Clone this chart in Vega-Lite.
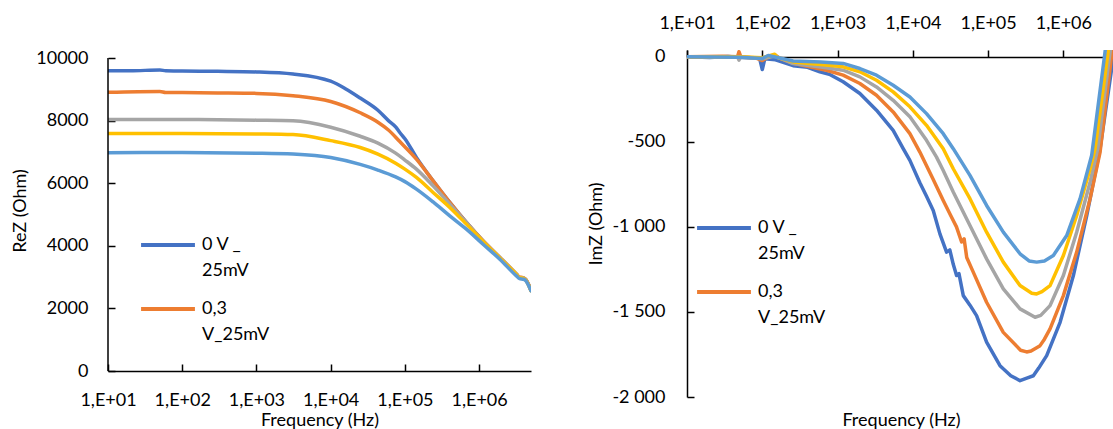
{
  "$schema": "https://vega.github.io/schema/vega-lite/v6.json",
  "padding": {"left": 11, "top": 14, "right": 0, "bottom": 0},
  "bounds": "flush",
  "spacing": 156,
  "config": {
    "font": "Lato",
    "view": {"stroke": null},
    "axis": {"labelFont": "Lato", "labelFontSize": 18, "labelColor": "#000", "titleFont": "Lato", "titleFontSize": 18, "titleFontWeight": "normal", "titleColor": "#000", "domainColor": "#000", "domainWidth": 1.5, "tickColor": "#000", "tickWidth": 1.5, "grid": false, "labelFlush": false, "labelOverlap": false},
    "legend": {"labelFont": "Lato", "labelFontSize": 18, "labelColor": "#000"},
    "style": {"guide-label": {"lineHeight": 26}},
    "title": {"font": "Lato", "fontSize": 18, "fontWeight": "normal", "color": "#000"}
  },
  "datasets": {
    "rez": [
      {"s": "0 V _ 25mV", "f": 10, "z": 9594}, {"s": "0 V _ 25mV", "f": 20, "z": 9590}, {"s": "0 V _ 25mV", "f": 50, "z": 9620}, {"s": "0 V _ 25mV", "f": 60, "z": 9592}, {"s": "0 V _ 25mV", "f": 100, "z": 9585}, {"s": "0 V _ 25mV", "f": 300, "z": 9575}, {"s": "0 V _ 25mV", "f": 1000, "z": 9555}, {"s": "0 V _ 25mV", "f": 3110, "z": 9489}, {"s": "0 V _ 25mV", "f": 10000, "z": 9260}, {"s": "0 V _ 25mV", "f": 16000, "z": 9010}, {"s": "0 V _ 25mV", "f": 25000, "z": 8720}, {"s": "0 V _ 25mV", "f": 43300, "z": 8330}, {"s": "0 V _ 25mV", "f": 60000, "z": 8000}, {"s": "0 V _ 25mV", "f": 75000, "z": 7800}, {"s": "0 V _ 25mV", "f": 85300, "z": 7620}, {"s": "0 V _ 25mV", "f": 100000, "z": 7420}, {"s": "0 V _ 25mV", "f": 142900, "z": 6825}, {"s": "0 V _ 25mV", "f": 239900, "z": 6076}, {"s": "0 V _ 25mV", "f": 402400, "z": 5385}, {"s": "0 V _ 25mV", "f": 674000, "z": 4746}, {"s": "0 V _ 25mV", "f": 1130000, "z": 4157}, {"s": "0 V _ 25mV", "f": 1900000, "z": 3626}, {"s": "0 V _ 25mV", "f": 3180000, "z": 3092}, {"s": "0 V _ 25mV", "f": 3500000, "z": 2990}, {"s": "0 V _ 25mV", "f": 3920000, "z": 2975}, {"s": "0 V _ 25mV", "f": 4200000, "z": 2930}, {"s": "0 V _ 25mV", "f": 5000000, "z": 2580},
      {"s": "0,3 V_25mV", "f": 10, "z": 8903}, {"s": "0,3 V_25mV", "f": 50, "z": 8930}, {"s": "0,3 V_25mV", "f": 60, "z": 8900}, {"s": "0,3 V_25mV", "f": 100, "z": 8895}, {"s": "0,3 V_25mV", "f": 300, "z": 8885}, {"s": "0,3 V_25mV", "f": 1000, "z": 8870}, {"s": "0,3 V_25mV", "f": 3110, "z": 8795}, {"s": "0,3 V_25mV", "f": 10000, "z": 8610}, {"s": "0,3 V_25mV", "f": 25000, "z": 8250}, {"s": "0,3 V_25mV", "f": 43300, "z": 7950}, {"s": "0,3 V_25mV", "f": 60000, "z": 7700}, {"s": "0,3 V_25mV", "f": 85300, "z": 7330}, {"s": "0,3 V_25mV", "f": 142900, "z": 6770}, {"s": "0,3 V_25mV", "f": 239900, "z": 6076}, {"s": "0,3 V_25mV", "f": 402400, "z": 5385}, {"s": "0,3 V_25mV", "f": 674000, "z": 4746}, {"s": "0,3 V_25mV", "f": 1130000, "z": 4160}, {"s": "0,3 V_25mV", "f": 1900000, "z": 3630}, {"s": "0,3 V_25mV", "f": 3180000, "z": 3100}, {"s": "0,3 V_25mV", "f": 3500000, "z": 3000}, {"s": "0,3 V_25mV", "f": 3920000, "z": 2985}, {"s": "0,3 V_25mV", "f": 4200000, "z": 2940}, {"s": "0,3 V_25mV", "f": 5000000, "z": 2590},
      {"s": "Série 3", "f": 10, "z": 8039}, {"s": "Série 3", "f": 100, "z": 8035}, {"s": "Série 3", "f": 300, "z": 8030}, {"s": "Série 3", "f": 1000, "z": 8015}, {"s": "Série 3", "f": 3110, "z": 7995}, {"s": "Série 3", "f": 10000, "z": 7790}, {"s": "Série 3", "f": 25000, "z": 7500}, {"s": "Série 3", "f": 43300, "z": 7280}, {"s": "Série 3", "f": 75000, "z": 6960}, {"s": "Série 3", "f": 100000, "z": 6740}, {"s": "Série 3", "f": 142900, "z": 6450}, {"s": "Série 3", "f": 239900, "z": 5916}, {"s": "Série 3", "f": 402400, "z": 5331}, {"s": "Série 3", "f": 674000, "z": 4746}, {"s": "Série 3", "f": 1130000, "z": 4150}, {"s": "Série 3", "f": 1900000, "z": 3620}, {"s": "Série 3", "f": 3180000, "z": 3090}, {"s": "Série 3", "f": 3500000, "z": 2985}, {"s": "Série 3", "f": 3920000, "z": 2970}, {"s": "Série 3", "f": 4200000, "z": 2925}, {"s": "Série 3", "f": 5000000, "z": 2570},
      {"s": "Série 4", "f": 10, "z": 7591}, {"s": "Série 4", "f": 100, "z": 7590}, {"s": "Série 4", "f": 1000, "z": 7575}, {"s": "Série 4", "f": 3110, "z": 7555}, {"s": "Série 4", "f": 10000, "z": 7360}, {"s": "Série 4", "f": 25000, "z": 7140}, {"s": "Série 4", "f": 43300, "z": 6930}, {"s": "Série 4", "f": 75000, "z": 6640}, {"s": "Série 4", "f": 100000, "z": 6450}, {"s": "Série 4", "f": 142900, "z": 6185}, {"s": "Série 4", "f": 239900, "z": 5705}, {"s": "Série 4", "f": 402400, "z": 5226}, {"s": "Série 4", "f": 674000, "z": 4692}, {"s": "Série 4", "f": 1130000, "z": 4140}, {"s": "Série 4", "f": 1900000, "z": 3610}, {"s": "Série 4", "f": 3180000, "z": 3085}, {"s": "Série 4", "f": 3500000, "z": 2980}, {"s": "Série 4", "f": 3920000, "z": 2965}, {"s": "Série 4", "f": 4200000, "z": 2920}, {"s": "Série 4", "f": 5000000, "z": 2565},
      {"s": "Série 5", "f": 10, "z": 6975}, {"s": "Série 5", "f": 100, "z": 6980}, {"s": "Série 5", "f": 1000, "z": 6960}, {"s": "Série 5", "f": 3110, "z": 6930}, {"s": "Série 5", "f": 10000, "z": 6820}, {"s": "Série 5", "f": 25000, "z": 6600}, {"s": "Série 5", "f": 43300, "z": 6420}, {"s": "Série 5", "f": 75000, "z": 6200}, {"s": "Série 5", "f": 100000, "z": 6050}, {"s": "Série 5", "f": 142900, "z": 5810}, {"s": "Série 5", "f": 239900, "z": 5400}, {"s": "Série 5", "f": 402400, "z": 4957}, {"s": "Série 5", "f": 674000, "z": 4532}, {"s": "Série 5", "f": 1130000, "z": 4052}, {"s": "Série 5", "f": 1900000, "z": 3572}, {"s": "Série 5", "f": 3180000, "z": 3038}, {"s": "Série 5", "f": 3500000, "z": 2950}, {"s": "Série 5", "f": 3920000, "z": 2933}, {"s": "Série 5", "f": 4200000, "z": 2900}, {"s": "Série 5", "f": 5000000, "z": 2558}
    ],
    "imz": [
      {"s": "0 V _ 25mV", "f": 10, "z": 0}, {"s": "0 V _ 25mV", "f": 20, "z": -4}, {"s": "0 V _ 25mV", "f": 35, "z": 2}, {"s": "0 V _ 25mV", "f": 49, "z": -3}, {"s": "0 V _ 25mV", "f": 70, "z": -5}, {"s": "0 V _ 25mV", "f": 92, "z": -8}, {"s": "0 V _ 25mV", "f": 100, "z": -75}, {"s": "0 V _ 25mV", "f": 108, "z": -12}, {"s": "0 V _ 25mV", "f": 150, "z": -18}, {"s": "0 V _ 25mV", "f": 257, "z": -52}, {"s": "0 V _ 25mV", "f": 400, "z": -62}, {"s": "0 V _ 25mV", "f": 582, "z": -88}, {"s": "0 V _ 25mV", "f": 800, "z": -105}, {"s": "0 V _ 25mV", "f": 1186, "z": -147}, {"s": "0 V _ 25mV", "f": 1980, "z": -216}, {"s": "0 V _ 25mV", "f": 3290, "z": -314}, {"s": "0 V _ 25mV", "f": 5480, "z": -432}, {"s": "0 V _ 25mV", "f": 7450, "z": -540}, {"s": "0 V _ 25mV", "f": 9140, "z": -609}, {"s": "0 V _ 25mV", "f": 12400, "z": -740}, {"s": "0 V _ 25mV", "f": 15200, "z": -820}, {"s": "0 V _ 25mV", "f": 18670, "z": -903}, {"s": "0 V _ 25mV", "f": 22900, "z": -1041}, {"s": "0 V _ 25mV", "f": 28060, "z": -1148}, {"s": "0 V _ 25mV", "f": 31000, "z": -1135}, {"s": "0 V _ 25mV", "f": 34440, "z": -1220}, {"s": "0 V _ 25mV", "f": 38120, "z": -1286}, {"s": "0 V _ 25mV", "f": 41000, "z": -1275}, {"s": "0 V _ 25mV", "f": 46800, "z": -1404}, {"s": "0 V _ 25mV", "f": 57400, "z": -1460}, {"s": "0 V _ 25mV", "f": 70300, "z": -1522}, {"s": "0 V _ 25mV", "f": 95500, "z": -1678}, {"s": "0 V _ 25mV", "f": 143900, "z": -1816}, {"s": "0 V _ 25mV", "f": 200000, "z": -1875}, {"s": "0 V _ 25mV", "f": 265500, "z": -1904}, {"s": "0 V _ 25mV", "f": 320000, "z": -1890}, {"s": "0 V _ 25mV", "f": 399000, "z": -1875}, {"s": "0 V _ 25mV", "f": 470000, "z": -1830}, {"s": "0 V _ 25mV", "f": 600000, "z": -1757}, {"s": "0 V _ 25mV", "f": 904000, "z": -1561}, {"s": "0 V _ 25mV", "f": 1358000, "z": -1286}, {"s": "0 V _ 25mV", "f": 2043000, "z": -933}, {"s": "0 V _ 25mV", "f": 3073000, "z": -540}, {"s": "0 V _ 25mV", "f": 4620000, "z": 0}, {"s": "0 V _ 25mV", "f": 5000000, "z": 160},
      {"s": "0,3 V_25mV", "f": 10, "z": 0}, {"s": "0,3 V_25mV", "f": 30, "z": 3}, {"s": "0,3 V_25mV", "f": 47, "z": 0}, {"s": "0,3 V_25mV", "f": 49, "z": 30}, {"s": "0,3 V_25mV", "f": 52, "z": -2}, {"s": "0,3 V_25mV", "f": 80, "z": -5}, {"s": "0,3 V_25mV", "f": 100, "z": -22}, {"s": "0,3 V_25mV", "f": 115, "z": -5}, {"s": "0,3 V_25mV", "f": 146, "z": 12}, {"s": "0,3 V_25mV", "f": 170, "z": -8}, {"s": "0,3 V_25mV", "f": 257, "z": -38}, {"s": "0,3 V_25mV", "f": 712, "z": -79}, {"s": "0,3 V_25mV", "f": 1186, "z": -108}, {"s": "0,3 V_25mV", "f": 1980, "z": -157}, {"s": "0,3 V_25mV", "f": 3290, "z": -226}, {"s": "0,3 V_25mV", "f": 5480, "z": -324}, {"s": "0,3 V_25mV", "f": 9140, "z": -452}, {"s": "0,3 V_25mV", "f": 12400, "z": -560}, {"s": "0,3 V_25mV", "f": 18400, "z": -715}, {"s": "0,3 V_25mV", "f": 25350, "z": -845}, {"s": "0,3 V_25mV", "f": 31600, "z": -930}, {"s": "0,3 V_25mV", "f": 38000, "z": -1000}, {"s": "0,3 V_25mV", "f": 44460, "z": -1089}, {"s": "0,3 V_25mV", "f": 48000, "z": -1070}, {"s": "0,3 V_25mV", "f": 52000, "z": -1180}, {"s": "0,3 V_25mV", "f": 63500, "z": -1266}, {"s": "0,3 V_25mV", "f": 95500, "z": -1443}, {"s": "0,3 V_25mV", "f": 159200, "z": -1620}, {"s": "0,3 V_25mV", "f": 270000, "z": -1725}, {"s": "0,3 V_25mV", "f": 325000, "z": -1735}, {"s": "0,3 V_25mV", "f": 372000, "z": -1730}, {"s": "0,3 V_25mV", "f": 490000, "z": -1698}, {"s": "0,3 V_25mV", "f": 560000, "z": -1660}, {"s": "0,3 V_25mV", "f": 665000, "z": -1600}, {"s": "0,3 V_25mV", "f": 1000000, "z": -1404}, {"s": "0,3 V_25mV", "f": 1502000, "z": -1148}, {"s": "0,3 V_25mV", "f": 2265000, "z": -834}, {"s": "0,3 V_25mV", "f": 3073000, "z": -560}, {"s": "0,3 V_25mV", "f": 4350000, "z": 0}, {"s": "0,3 V_25mV", "f": 5000000, "z": 250},
      {"s": "Série 3", "f": 10, "z": 0}, {"s": "Série 3", "f": 30, "z": -2}, {"s": "Série 3", "f": 47, "z": 0}, {"s": "Série 3", "f": 49, "z": -20}, {"s": "Série 3", "f": 52, "z": 0}, {"s": "Série 3", "f": 100, "z": -12}, {"s": "Série 3", "f": 146, "z": 5}, {"s": "Série 3", "f": 257, "z": -40}, {"s": "Série 3", "f": 600, "z": -60}, {"s": "Série 3", "f": 1186, "z": -79}, {"s": "Série 3", "f": 1980, "z": -118}, {"s": "Série 3", "f": 3290, "z": -177}, {"s": "Série 3", "f": 5480, "z": -256}, {"s": "Série 3", "f": 9140, "z": -353}, {"s": "Série 3", "f": 15200, "z": -491}, {"s": "Série 3", "f": 20650, "z": -590}, {"s": "Série 3", "f": 25350, "z": -668}, {"s": "Série 3", "f": 34440, "z": -795}, {"s": "Série 3", "f": 57400, "z": -992}, {"s": "Série 3", "f": 95500, "z": -1188}, {"s": "Série 3", "f": 159200, "z": -1364}, {"s": "Série 3", "f": 265500, "z": -1482}, {"s": "Série 3", "f": 420500, "z": -1531}, {"s": "Série 3", "f": 500000, "z": -1520}, {"s": "Série 3", "f": 665000, "z": -1463}, {"s": "Série 3", "f": 1000000, "z": -1286}, {"s": "Série 3", "f": 1502000, "z": -1031}, {"s": "Série 3", "f": 2265000, "z": -736}, {"s": "Série 3", "f": 2860000, "z": -540}, {"s": "Série 3", "f": 4090000, "z": 0}, {"s": "Série 3", "f": 4700000, "z": 200},
      {"s": "Série 4", "f": 10, "z": 0}, {"s": "Série 4", "f": 49, "z": 0}, {"s": "Série 4", "f": 100, "z": -5}, {"s": "Série 4", "f": 146, "z": 15}, {"s": "Série 4", "f": 160, "z": -5}, {"s": "Série 4", "f": 257, "z": -30}, {"s": "Série 4", "f": 600, "z": -45}, {"s": "Série 4", "f": 1186, "z": -59}, {"s": "Série 4", "f": 1980, "z": -88}, {"s": "Série 4", "f": 3290, "z": -138}, {"s": "Série 4", "f": 5480, "z": -206}, {"s": "Série 4", "f": 9140, "z": -294}, {"s": "Série 4", "f": 15200, "z": -403}, {"s": "Série 4", "f": 25350, "z": -540}, {"s": "Série 4", "f": 34440, "z": -658}, {"s": "Série 4", "f": 57400, "z": -834}, {"s": "Série 4", "f": 95500, "z": -1031}, {"s": "Série 4", "f": 159200, "z": -1207}, {"s": "Série 4", "f": 265500, "z": -1345}, {"s": "Série 4", "f": 380000, "z": -1390}, {"s": "Série 4", "f": 441600, "z": -1394}, {"s": "Série 4", "f": 520000, "z": -1380}, {"s": "Série 4", "f": 665000, "z": -1345}, {"s": "Série 4", "f": 1000000, "z": -1168}, {"s": "Série 4", "f": 1502000, "z": -933}, {"s": "Série 4", "f": 2265000, "z": -658}, {"s": "Série 4", "f": 2635000, "z": -540}, {"s": "Série 4", "f": 3850000, "z": 0}, {"s": "Série 4", "f": 4400000, "z": 200},
      {"s": "Série 5", "f": 10, "z": 0}, {"s": "Série 5", "f": 49, "z": -3}, {"s": "Série 5", "f": 100, "z": -10}, {"s": "Série 5", "f": 120, "z": 8}, {"s": "Série 5", "f": 257, "z": -25}, {"s": "Série 5", "f": 600, "z": -30}, {"s": "Série 5", "f": 1186, "z": -39}, {"s": "Série 5", "f": 1980, "z": -69}, {"s": "Série 5", "f": 3290, "z": -108}, {"s": "Série 5", "f": 5480, "z": -167}, {"s": "Série 5", "f": 9140, "z": -236}, {"s": "Série 5", "f": 15200, "z": -334}, {"s": "Série 5", "f": 25350, "z": -452}, {"s": "Série 5", "f": 34440, "z": -540}, {"s": "Série 5", "f": 57400, "z": -697}, {"s": "Série 5", "f": 95500, "z": -874}, {"s": "Série 5", "f": 159200, "z": -1031}, {"s": "Série 5", "f": 265500, "z": -1158}, {"s": "Série 5", "f": 350000, "z": -1200}, {"s": "Série 5", "f": 441600, "z": -1207}, {"s": "Série 5", "f": 560000, "z": -1200}, {"s": "Série 5", "f": 736000, "z": -1168}, {"s": "Série 5", "f": 1107000, "z": -1051}, {"s": "Série 5", "f": 1667000, "z": -834}, {"s": "Série 5", "f": 2378000, "z": -579}, {"s": "Série 5", "f": 3510000, "z": 0}, {"s": "Série 5", "f": 4000000, "z": 200}
    ]
  },
  "resolve": {"legend": {"color": "independent"}},
  "hconcat": [
    {
      "width": 423,
      "height": 321,
      "layer": [
        {
          "data": {"name": "rez"},
          "mark": {"type": "line", "strokeWidth": 3.5, "strokeCap": "round", "strokeJoin": "round", "clip": true, "interpolate": "monotone"},
          "encoding": {
            "x": {"field": "f", "type": "quantitative", "scale": {"type": "log", "domain": [10, 5000000], "nice": false},
                  "axis": {"orient": "bottom", "values": [10, 100, 1000, 10000, 100000, 1000000], "labelExpr": "'1,E+0' + round(log(datum.value)/LN10)", "tickSize": -7, "labelPadding": 27, "title": "Frequency (Hz)", "titlePadding": 2}},
            "y": {"field": "z", "type": "quantitative", "scale": {"domain": [0, 10256], "nice": false, "zero": false},
                  "axis": {"values": [0, 2000, 4000, 6000, 8000, 10000], "format": "d", "tickSize": -7, "labelPadding": 27, "domain": false, "title": "ReZ (Ohm)", "titlePadding": 6}},
            "color": {"field": "s", "type": "nominal",
                      "scale": {"domain": ["0 V _ 25mV", "0,3 V_25mV", "Série 3", "Série 4", "Série 5"], "range": ["#4472C4", "#ED7D31", "#A5A5A5", "#FFC000", "#5B9BD5"]},
                      "legend": {"orient": "none", "legendX": 31, "legendY": 166, "values": ["0 V _ 25mV", "0,3 V_25mV"], "title": null, "symbolType": "stroke", "symbolSize": 2900, "symbolStrokeWidth": 4, "labelOffset": 5, "rowPadding": -5,
                                 "labelExpr": "datum.value === '0 V _ 25mV' ? ['0 V _', '25mV'] : ['0,3', 'V_25mV']"}}
          }
        },
        {
          "data": {"values": [{}]},
          "mark": {"type": "rule", "color": "#000", "strokeWidth": 1.5},
          "encoding": {"x": {"datum": 10, "type": "quantitative"}, "y": {"datum": 0, "type": "quantitative"}, "y2": {"datum": 10000}}
        }
      ]
    },
    {
      "width": 429,
      "height": 347,
      "data": {"name": "imz"},
      "title": {"text": "Frequency (Hz)", "orient": "bottom", "anchor": "middle", "frame": "group", "offset": 6},
      "mark": {"type": "line", "strokeWidth": 3.5, "strokeCap": "round", "strokeJoin": "round", "clip": true},
      "encoding": {
        "x": {"field": "f", "type": "quantitative", "scale": {"type": "log", "domain": [10, 5000000], "nice": false},
              "axis": {"orient": "top", "offset": -7, "values": [10, 100, 1000, 10000, 100000, 1000000], "labelExpr": "'1,E+0' + round(log(datum.value)/LN10)", "tickSize": 7, "labelPadding": 18, "title": null}},
        "y": {"field": "z", "type": "quantitative", "scale": {"domain": [-2000, 40], "nice": false, "zero": false},
              "axis": {"values": [-2000, -1500, -1000, -500, 0], "labelExpr": "datum.value <= -1000 ? '-' + floor(-datum.value/1000) + ' ' + (-datum.value % 1000 === 0 ? '000' : '500') : (datum.value < 0 ? '-' + (-datum.value) : '' + datum.value)", "tickSize": -7, "labelPadding": 29, "title": "ImZ (Ohm)", "titlePadding": 6}},
        "color": {"field": "s", "type": "nominal",
                  "scale": {"domain": ["0 V _ 25mV", "0,3 V_25mV", "Série 3", "Série 4", "Série 5"], "range": ["#4472C4", "#ED7D31", "#A5A5A5", "#FFC000", "#5B9BD5"]},
                  "legend": {"orient": "none", "legendX": 8, "legendY": 149, "values": ["0 V _ 25mV", "0,3 V_25mV"], "title": null, "symbolType": "stroke", "symbolSize": 2900, "symbolStrokeWidth": 4, "labelOffset": 5, "rowPadding": 0,
                             "labelExpr": "datum.value === '0 V _ 25mV' ? ['0 V _', '25mV'] : ['0,3', 'V_25mV']"}}
      }
    }
  ]
}
